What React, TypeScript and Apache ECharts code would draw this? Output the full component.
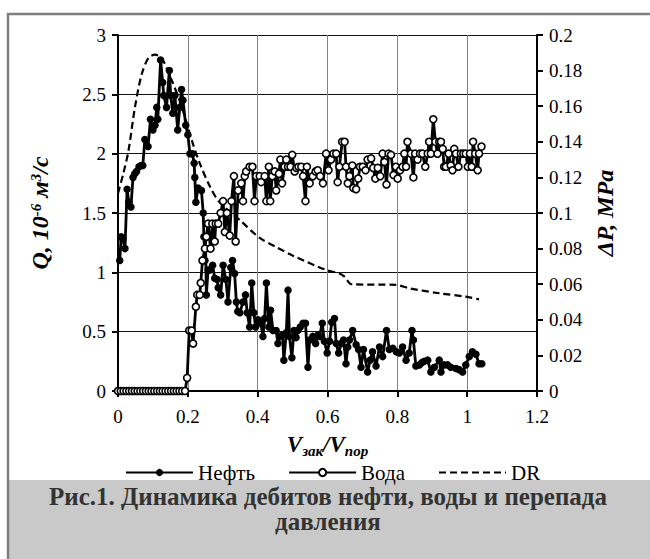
import React, { useEffect, useRef } from "react";
import * as echarts from "echarts";

const FONT = "Liberation Serif";

// x-axis ticks (V_зак/V_пор)
const xTicks = [0, 0.2, 0.4, 0.6, 0.8, 1, 1.2];

// Oil (Нефть)
const oilV = [0.005,0.009,0.014,0.020,0.026,0.031,0.037,0.043,0.048,0.053,0.060,0.066,0.071,0.077,0.086,0.093,0.100,0.106,0.111,0.114,0.122,0.128,0.131,0.139,0.147,0.151,0.157,0.163,0.171,0.177,0.182,0.186,0.194,0.200,0.206,0.213,0.218,0.220,0.223,0.229,0.239,0.244,0.246,0.249,0.251,0.253,0.258,0.263,0.271,0.277,0.284,0.287,0.294,0.301,0.309,0.315,0.323,0.328,0.334,0.339,0.343,0.349,0.358,0.365,0.370,0.377,0.383,0.389,0.394,0.401,0.409,0.415,0.420,0.425,0.432,0.437,0.444,0.453,0.458,0.463,0.471,0.475,0.482,0.487,0.491,0.498,0.504,0.510,0.515,0.522,0.530,0.537,0.544,0.549,0.558,0.566,0.572,0.577,0.585,0.591,0.599,0.606,0.612,0.620,0.625,0.632,0.639,0.646,0.653,0.658,0.663,0.672,0.682,0.689,0.696,0.703,0.715,0.722,0.729,0.739,0.749,0.758,0.769,0.777,0.787,0.797,0.806,0.815,0.825,0.834,0.842,0.846,0.853,0.863,0.871,0.877,0.887,0.896,0.906,0.920,0.925,0.934,0.944,0.953,0.968,0.977,0.987,0.996,1.006,1.015,1.025,1.034,1.042];
const oilQ = [1.10,1.30,1.28,1.20,1.70,1.59,1.55,1.80,1.83,1.85,1.89,1.90,1.90,2.12,2.06,2.29,2.20,2.24,2.39,2.29,2.79,2.60,2.49,2.39,2.70,2.49,2.34,2.49,2.20,2.39,2.54,2.45,2.24,2.16,2.00,2.00,1.92,1.80,1.59,1.71,1.69,1.50,1.30,1.10,1.20,0.81,1.02,1.02,1.06,0.95,0.94,0.87,0.81,1.06,0.94,0.75,1.04,1.10,0.99,0.75,0.67,0.66,0.75,0.81,0.66,0.54,0.91,0.66,0.54,0.60,0.57,0.46,0.61,0.91,0.54,0.68,0.51,0.51,0.40,0.46,0.47,0.26,0.49,0.85,0.46,0.28,0.51,0.45,0.51,0.54,0.57,0.57,0.20,0.43,0.46,0.40,0.47,0.46,0.57,0.42,0.32,0.42,0.58,0.61,0.40,0.32,0.40,0.43,0.23,0.37,0.43,0.51,0.39,0.35,0.20,0.35,0.16,0.26,0.33,0.21,0.37,0.29,0.51,0.35,0.36,0.33,0.32,0.37,0.26,0.32,0.51,0.43,0.21,0.22,0.24,0.25,0.26,0.16,0.20,0.26,0.16,0.22,0.22,0.20,0.19,0.18,0.16,0.22,0.29,0.33,0.31,0.23,0.23];

// Water (Вода)
const waterV = [0.000,0.008,0.016,0.024,0.032,0.040,0.048,0.056,0.064,0.072,0.080,0.088,0.096,0.104,0.112,0.120,0.128,0.136,0.144,0.152,0.160,0.168,0.176,0.184,0.192,0.198,0.204,0.211,0.215,0.223,0.227,0.234,0.237,0.242,0.249,0.253,0.258,0.265,0.270,0.277,0.280,0.287,0.294,0.301,0.306,0.312,0.320,0.325,0.332,0.337,0.344,0.353,0.358,0.363,0.367,0.377,0.385,0.391,0.396,0.406,0.410,0.420,0.425,0.432,0.436,0.442,0.449,0.453,0.461,0.465,0.470,0.477,0.482,0.487,0.494,0.499,0.506,0.511,0.517,0.525,0.530,0.537,0.541,0.549,0.558,0.566,0.572,0.579,0.587,0.596,0.603,0.610,0.617,0.625,0.629,0.634,0.642,0.649,0.653,0.658,0.663,0.671,0.674,0.682,0.688,0.693,0.701,0.709,0.715,0.725,0.731,0.737,0.744,0.751,0.758,0.763,0.769,0.775,0.782,0.789,0.796,0.801,0.808,0.815,0.820,0.825,0.829,0.839,0.846,0.851,0.858,0.865,0.872,0.880,0.887,0.891,0.896,0.903,0.909,0.915,0.920,0.925,0.930,0.934,0.939,0.947,0.953,0.958,0.963,0.968,0.975,0.982,0.989,0.996,1.002,1.008,1.013,1.017,1.023,1.030,1.034,1.041];
const waterQ = [0,0,0,0,0,0,0,0,0,0,0,0,0,0,0,0,0,0,0,0,0,0,0,0,0,0.11,0.51,0.51,0.40,0.71,0.81,0.81,0.91,1.10,1.20,1.30,1.41,1.20,1.41,1.26,1.41,1.41,1.50,1.60,1.34,1.50,1.31,1.60,1.81,1.26,1.69,1.75,1.60,1.81,1.85,1.89,1.89,1.60,1.81,1.81,1.76,1.81,1.60,1.89,1.60,1.81,1.85,1.69,1.83,1.95,1.75,1.89,1.95,1.89,1.89,1.99,1.85,1.88,1.89,1.89,1.81,1.60,1.89,1.75,1.81,1.85,1.86,1.81,1.75,2.00,1.86,1.95,2.00,2.00,1.76,1.89,2.10,2.10,1.89,1.75,1.81,1.90,1.71,1.70,1.79,1.89,1.89,1.86,1.95,1.96,1.88,1.79,1.88,1.81,2.00,1.93,1.74,2.00,1.99,1.82,1.89,1.79,1.86,1.89,2.00,1.89,2.10,2.00,1.80,2.00,1.95,2.00,2.00,1.89,2.00,2.10,2.00,2.29,2.10,2.00,2.10,2.10,2.04,1.89,1.89,2.00,1.90,1.86,2.04,2.00,1.89,2.00,2.00,2.00,1.89,2.00,1.89,2.10,2.00,1.86,2.00,2.06];

// Pressure drop DR (ΔP, MPa)
const drV = [0.000,0.015,0.030,0.049,0.068,0.087,0.106,0.125,0.153,0.182,0.211,0.234,0.263,0.291,0.349,0.406,0.452,0.501,0.596,0.634,0.650,0.668,0.796,0.834,0.920,0.996,1.034];
const drP = [0.111,0.122,0.135,0.160,0.178,0.187,0.189,0.187,0.175,0.160,0.141,0.128,0.115,0.106,0.096,0.086,0.081,0.076,0.068,0.066,0.064,0.060,0.0596,0.0577,0.0549,0.053,0.0515];

const zip = (xs: number[], ys: number[]) => xs.map((x, i) => [x, ys[i]]);

export default function App() {
  const ref = useRef<HTMLDivElement>(null);
  useEffect(() => {
    if (!ref.current) return;
    const chart = echarts.init(ref.current, undefined, { renderer: "svg" });
    const label = { color: "#000", fontSize: 19, fontFamily: FONT };
    const nameStyle = { color: "#000", fontSize: 24, fontFamily: FONT, fontWeight: "bold", fontStyle: "italic" };
    chart.setOption({
      animation: false,
      backgroundColor: "#fff",
      grid: { left: 118, right: 113, top: 35, bottom: 168 },
      xAxis: {
        type: "value",
        min: xTicks[0],
        max: xTicks[xTicks.length - 1],
        interval: 0.2,
        axisLine: { show: true, lineStyle: { color: "#000", width: 2 } },
        axisTick: { show: true, length: 6, lineStyle: { color: "#000", width: 2 } },
        axisLabel: { ...label, margin: 16 },
        splitLine: { show: true, lineStyle: { color: "#808080", width: 1 } },
        name: "{v|V}{s|зак}{v|/V}{s|пор}",
        nameLocation: "middle",
        nameGap: 39,
        nameTextStyle: {
          rich: {
            v: { ...nameStyle, fontSize: 23, lineHeight: 28, verticalAlign: "middle" },
            s: { ...nameStyle, fontSize: 15, lineHeight: 28, verticalAlign: "bottom" },
          },
        },
      },
      yAxis: [
        {
          type: "value",
          min: 0,
          max: 3,
          interval: 0.5,
          position: "left",
          axisLine: { show: true, lineStyle: { color: "#000", width: 2 } },
          axisTick: { show: true, length: 6, lineStyle: { color: "#000", width: 2 } },
          axisLabel: { ...label, margin: 12 },
          splitLine: { show: true, lineStyle: { color: "#111", width: 1 } },
          name: "{q|Q, 10}{p|-6}{q| м}{p|3}{q|/с}",
          nameLocation: "middle",
          nameGap: 58,
          nameRotate: 90,
          nameTextStyle: {
            rich: {
              q: { ...nameStyle, lineHeight: 32, verticalAlign: "top" },
              p: { ...nameStyle, fontSize: 15, lineHeight: 16, verticalAlign: "top" },
            },
          },
        },
        {
          type: "value",
          min: 0,
          max: 0.2,
          interval: 0.02,
          position: "right",
          axisLine: { show: true, lineStyle: { color: "#000", width: 2 } },
          axisTick: { show: true, length: 6, lineStyle: { color: "#000", width: 2 } },
          axisLabel: { ...label, margin: 12 },
          splitLine: { show: false },
          name: "ΔP, MPa",
          nameLocation: "middle",
          nameGap: 54,
          nameRotate: 90,
          nameTextStyle: nameStyle,
        },
      ],
      legend: {
        top: 457,
        left: 120,
        itemWidth: 67,
        itemHeight: 9,
        itemGap: 33,
        textStyle: { color: "#000", fontSize: 21, fontFamily: FONT },
        data: [
          "Нефть",
          "Вода",
          { name: "DR", itemStyle: { color: "rgba(0,0,0,0)", borderColor: "rgba(0,0,0,0)", borderWidth: 0 } },
        ],
      },
      series: [
        {
          name: "Нефть",
          type: "line",
          yAxisIndex: 0,
          data: zip(oilV, oilQ),
          showAllSymbol: true,
          symbol: "circle",
          symbolSize: 7.5,
          itemStyle: { color: "#000" },
          lineStyle: { color: "#000", width: 2.8 },
        },
        {
          name: "Вода",
          type: "line",
          yAxisIndex: 0,
          data: zip(waterV, waterQ),
          showAllSymbol: true,
          symbol: "circle",
          symbolSize: 7,
          itemStyle: { color: "#fff", borderColor: "#000", borderWidth: 1.6 },
          lineStyle: { color: "#000", width: 2.8 },
        },
        {
          name: "DR",
          type: "line",
          yAxisIndex: 1,
          data: zip(drV, drP),
          symbol: "none",
          smooth: 0.3,
          lineStyle: { color: "#000", width: 2.2, type: [7, 4] },
        },
      ],
      graphic: [
        {
          type: "rect",
          silent: true,
          shape: { x: 8, y: 480, width: 650, height: 85 },
          style: { fill: "#c9c9c9" },
        },
        {
          type: "rect",
          silent: true,
          shape: { x: 8, y: 14, width: 700, height: 600 },
          style: { fill: "none", stroke: "#7f7f7f", lineWidth: 2.5 },
        },
        {
          type: "text",
          silent: true,
          x: 328,
          y: 484,
          style: {
            text: "Рис.1. Динамика дебитов нефти, воды и перепада\nдавления",
            fontSize: 25,
            fontWeight: "bold",
            fontFamily: FONT,
            textAlign: "center",
            fill: "#333",
            lineHeight: 25,
          },
        },
      ],
    });
    return () => chart.dispose();
  }, []);
  return <div ref={ref} style={{ position: "absolute", left: 0, top: 0, width: 650, height: 559 }} />;
}
